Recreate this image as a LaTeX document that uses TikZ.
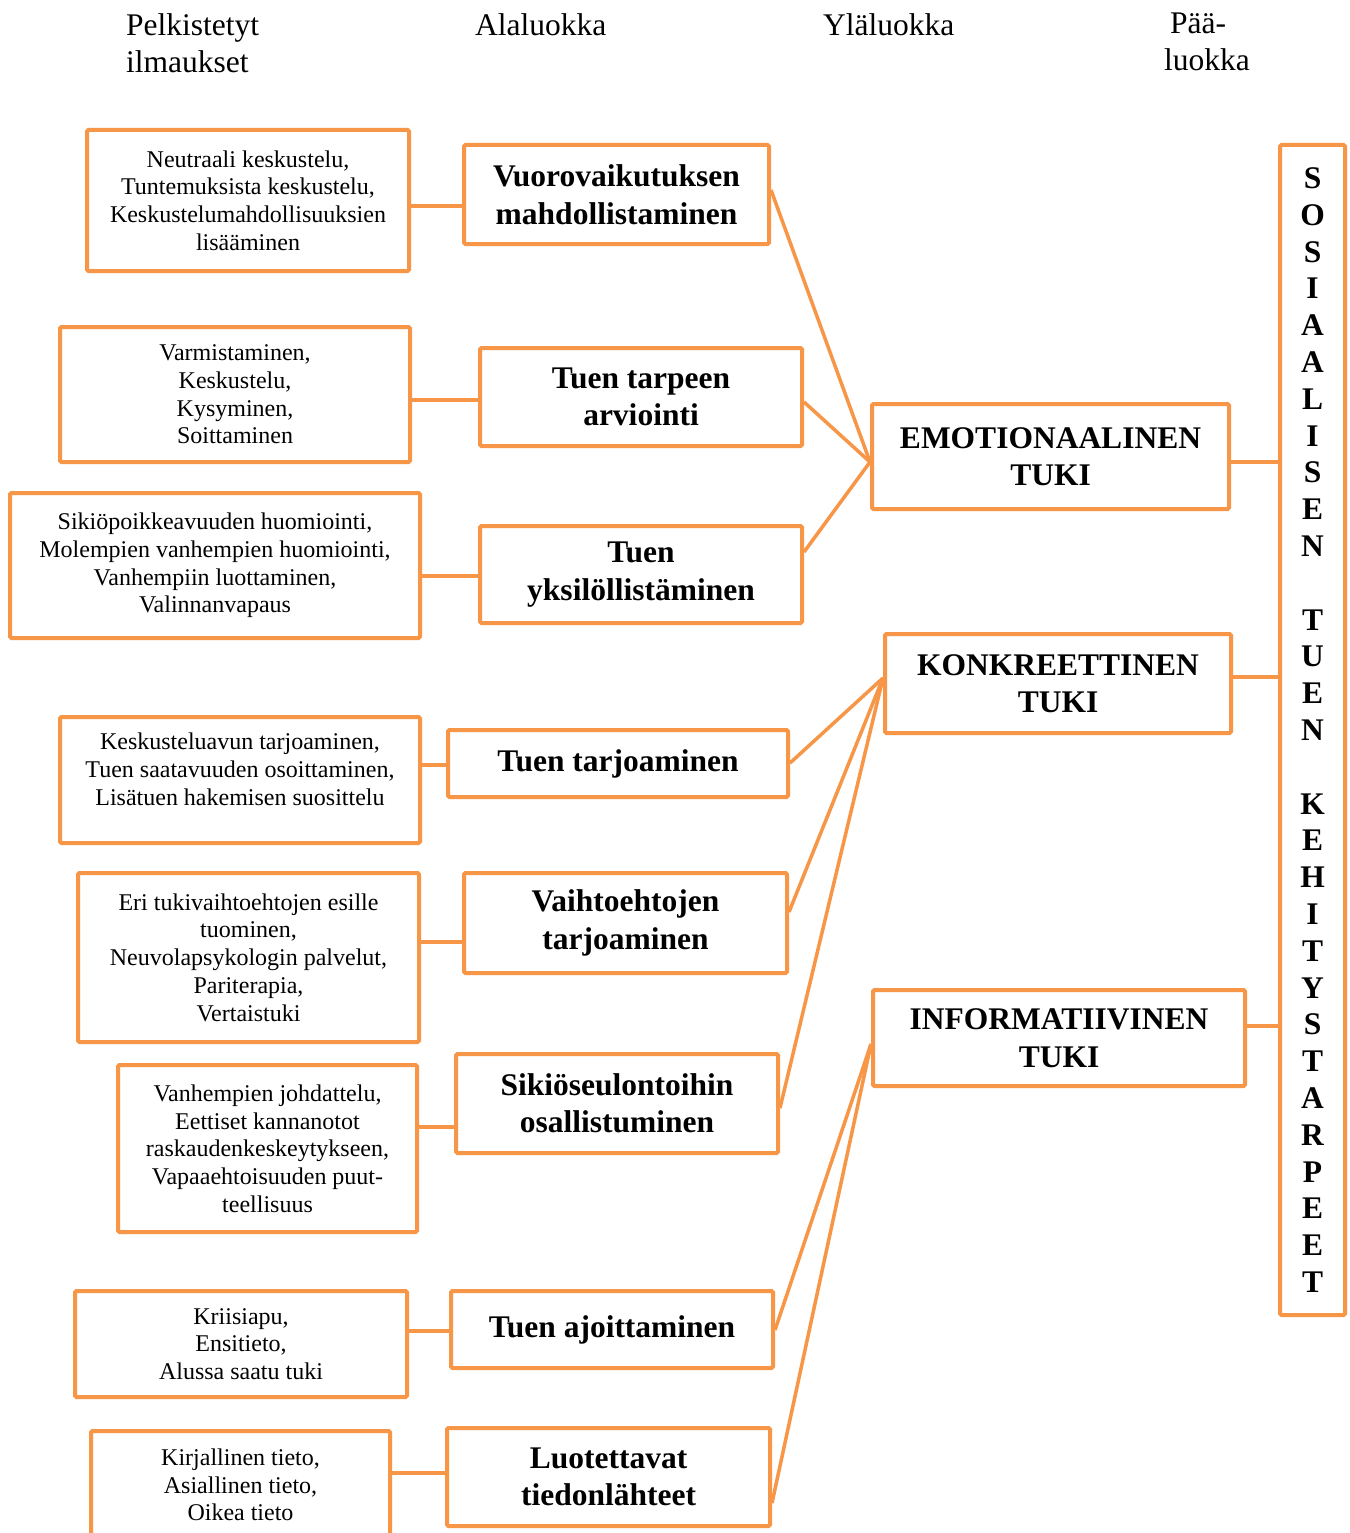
\documentclass[tikz,border=0pt]{standalone}
\usepackage{fontspec}
\setmainfont{Liberation Serif}
\definecolor{bor}{RGB}{247,150,70}
\begin{document}
\begin{tikzpicture}[x=1pt,y=-1pt,
 box/.style={draw=bor, line width=4pt, rounded corners=1.5pt, align=center, inner sep=0pt, fill=white},
 sm/.style={box, font=\fontsize{24}{27.7}\selectfont},
 bd/.style={box, font=\bfseries\fontsize{31.5}{37.5}\selectfont},
 link/.style={draw=bor, line width=3.5pt},
 hd/.style={font=\fontsize{31.5}{37}\selectfont, align=left, anchor=north west, inner sep=0pt}]
\clip (0,0) rectangle (1349,1533);
\fill[white] (0,0) rectangle (1349,1533);

% headers
\node[hd] (h1) at (126,13) {Pelkistetyt\\ilmaukset};
\node[hd] (h2) at (475,13) {Alaluokka};
\node[hd] (h3) at (823,13) {Yläluokka};
\node[hd] (h4) at (1164,13) {\hspace*{6pt}Pää-\\luokka};

% left boxes
\node[sm, minimum width=322pt, minimum height=141pt] (l1) at (248,200.5) {Neutraali keskustelu,\\Tuntemuksista keskustelu,\\Keskustelumahdollisuuksien\\lisääminen};
\node[sm, minimum width=350pt, minimum height=135pt] (l2) at (235,394.5) {Varmistaminen,\\Keskustelu,\\Kysyminen,\\Soittaminen};
\node[sm, minimum width=410pt, minimum height=145pt] (l3) at (215,565.5) {Sikiöpoikkeavuuden huomiointi,\\Molempien vanhempien huomiointi,\\Vanhempiin luottaminen,\\Valinnanvapaus};
\node[sm, minimum width=360pt, minimum height=126pt, text depth=22pt] (l4) at (240,780) {Keskusteluavun tarjoaminen,\\Tuen saatavuuden osoittaminen,\\Lisätuen hakemisen suosittelu};
\node[sm, minimum width=341pt, minimum height=169pt] (l5) at (248.5,957.5) {Eri tukivaihtoehtojen esille\\tuominen,\\Neuvolapsykologin palvelut,\\Pariterapia,\\Vertaistuki};
\node[sm, minimum width=299pt, minimum height=167pt] (l6) at (267.5,1148.5) {Vanhempien johdattelu,\\Eettiset kannanotot\\raskaudenkeskeytykseen,\\Vapaaehtoisuuden puut-\\teellisuus};
\node[sm, minimum width=332pt, minimum height=106pt] (l7) at (241,1344) {Kriisiapu,\\Ensitieto,\\Alussa saatu tuki};
\node[sm, minimum width=299pt, minimum height=108pt] (l8) at (240.5,1485) {Kirjallinen tieto,\\Asiallinen tieto,\\Oikea tieto};

% middle boxes
\node[bd, minimum width=305pt, minimum height=99pt] (m1) at (616.5,194.5) {Vuorovaikutuksen\\mahdollistaminen};
\node[bd, minimum width=322pt, minimum height=98pt] (m2) at (641,397) {Tuen tarpeen\\arviointi};
\node[bd, minimum width=322pt, minimum height=97pt] (m3) at (641,574.5) {Tuen\\yksilöllistäminen};
\node[bd, minimum width=340pt, minimum height=67pt] (m4) at (618,763.5) {Tuen tarjoaminen};
\node[bd, minimum width=323pt, minimum height=100pt] (m5) at (625.5,923) {Vaihtoehtojen\\tarjoaminen};
\node[bd, minimum width=322pt, minimum height=99pt] (m6) at (617,1103.5) {Sikiöseulontoihin\\osallistuminen};
\node[bd, minimum width=322pt, minimum height=77pt] (m7) at (612,1329.5) {Tuen ajoittaminen};
\node[bd, minimum width=323pt, minimum height=98pt] (m8) at (608.5,1477) {Luotettavat\\tiedonlähteet};

% right boxes
\node[bd, minimum width=357pt, minimum height=105pt] (r1) at (1050.5,456.5) {EMOTIONAALINEN\\TUKI};
\node[bd, minimum width=346pt, minimum height=99pt] (r2) at (1058,683.5) {KONKREETTINEN\\TUKI};
\node[bd, minimum width=372pt, minimum height=96pt] (r3) at (1059,1038) {INFORMATIIVINEN\\TUKI};

% vertical main category
\node[box, font=\bfseries\fontsize{31.5}{36.8}\selectfont, minimum width=65pt, minimum height=1170pt] (v) at (1312.5,730)
 {S\\O\\S\\I\\A\\A\\L\\I\\S\\E\\N\\~\\T\\U\\E\\N\\~\\K\\E\\H\\I\\T\\Y\\S\\T\\A\\R\\P\\E\\E\\T};

% left -> middle
\draw[link] (l1.east |- 0,206) -- (m1.west |- 0,206);
\draw[link] (l2.east |- 0,400) -- (m2.west |- 0,400);
\draw[link] (l3.east |- 0,576) -- (m3.west |- 0,576);
\draw[link] (l4.east |- 0,765) -- (m4.west |- 0,765);
\draw[link] (l5.east |- 0,942) -- (m5.west |- 0,942);
\draw[link] (l6.east |- 0,1127) -- (m6.west |- 0,1127);
\draw[link] (l7.east |- 0,1331) -- (m7.west |- 0,1331);
\draw[link] (l8.east |- 0,1473) -- (m8.west |- 0,1473);

% middle -> right
\draw[link] (m1.east |- 0,190) -- (r1.west |- 0,462);
\draw[link] (m2.east |- 0,402) -- (r1.west |- 0,462);
\draw[link] (m3.east |- 0,552) -- (r1.west |- 0,462);
\draw[link] (m4.east |- 0,763) -- (r2.west |- 0,678);
\draw[link] (m5.east |- 0,912) -- (r2.west |- 0,678);
\draw[link] (m6.east |- 0,1108) -- (r2.west |- 0,678);
\draw[link] (m7.east |- 0,1330) -- (r3.west |- 0,1044);
\draw[link] (m8.east |- 0,1503) -- (r3.west |- 0,1044);

% right -> vertical
\draw[link] (r1.east |- 0,462) -- (v.west |- 0,462);
\draw[link] (r2.east |- 0,677) -- (v.west |- 0,677);
\draw[link] (r3.east |- 0,1026) -- (v.west |- 0,1026);
\end{tikzpicture}
\end{document}
